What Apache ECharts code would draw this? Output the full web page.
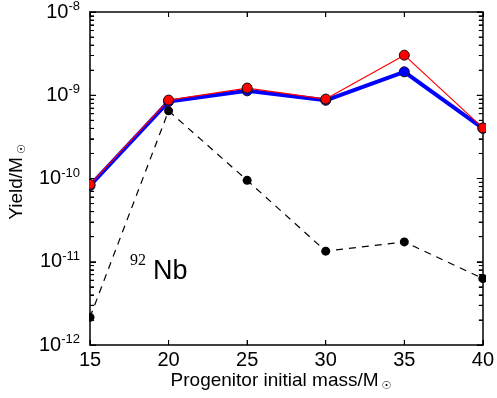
<!DOCTYPE html>
<html>
<head>
<meta charset="utf-8">
<script src="https://cdn.jsdelivr.net/npm/echarts@6/dist/echarts.min.js"></script>
<style>html,body{margin:0;padding:0;background:#fff}#c{width:497px;height:398px}</style>
</head>
<body>
<div id="c"></div>
<script>
// Data
var masses = [15, 20, 25, 30, 35, 40];
var redYield = [8.5e-11, 8.75e-10, 1.22e-9, 9.0e-10, 3.03e-9, 4.05e-10];
var blueYield = [8.2e-11, 8.4e-10, 1.13e-9, 8.7e-10, 1.91e-9, 4.0e-10];
var blackYield = [2.15e-12, 6.5e-10, 9.5e-11, 1.34e-11, 1.73e-11, 6.3e-12];
var xTicks = [15, 20, 25, 30, 35, 40];
var yExponents = [-12, -11, -10, -9, -8];

function pairs(ys) { return masses.map(function (m, i) { return [m, ys[i]]; }); }

// tick decoration positions (axis values, placed through the axes)
var yTickItems = [];
yExponents.forEach(function (e) {
  yTickItems.push([15, Math.pow(10, e), 6]);
  if (e < -8) for (var k = 2; k <= 9; k++) yTickItems.push([15, k * Math.pow(10, e), 4]);
});
var xTickItems = xTicks.map(function (x) { return [x, 1e-12]; });

var FONT = 'Liberation Sans, Arial, sans-serif';
var chart = echarts.init(document.getElementById('c'), null, { renderer: 'canvas' });

var yLabel = {
  show: true,
  margin: 10,
  formatter: function (v) {
    var ex = Math.round(Math.log10(v));
    return '{b|10}{s|' + ex + '}';
  },
  rich: {
    b: { fontSize: 20, fontFamily: FONT, color: '#000' },
    s: { fontSize: 13, fontFamily: FONT, color: '#000', padding: [0, 0, 11, 0] }
  }
};

function yAxisDef(pos, withLabels) {
  return {
    type: 'log', logBase: 10, min: 1e-12, max: 1e-8, position: pos,
    axisLine: { show: true, lineStyle: { color: '#000', width: 1.5 } },
    axisTick: { show: true, inside: true, length: 6, lineStyle: { color: '#000', width: 1 } },
    minorTick: { show: true, splitNumber: 9, length: 4, lineStyle: { color: '#000', width: 1 } },
    axisLabel: withLabels ? yLabel : { show: false },
    splitLine: { show: false },
    minorSplitLine: { show: false }
  };
}

chart.setOption({
  animation: false,
  backgroundColor: '#fff',
  grid: { left: 90, right: 12, top: 11, bottom: 53, containLabel: false },
  xAxis: [{
    type: 'value', min: 15, max: 40, interval: 5, position: 'bottom',
    axisLine: { show: true, lineStyle: { color: '#000', width: 1.5 } },
    axisTick: { show: true, inside: true, length: 5, lineStyle: { color: '#000', width: 1 } },
    axisLabel: { show: true, fontSize: 20, fontFamily: FONT, color: '#000', margin: 5 },
    splitLine: { show: false }
  }, {
    type: 'value', min: 15, max: 40, interval: 5, position: 'top',
    axisLine: { show: true, lineStyle: { color: '#444', width: 2 } },
    axisTick: { show: true, inside: true, length: 5, lineStyle: { color: '#000', width: 1 } },
    axisLabel: { show: false },
    splitLine: { show: false }
  }],
  yAxis: [yAxisDef('left', true), yAxisDef('right', false)],
  graphic: [{
    type: 'rect', z: 100, silent: true,
    shape: { x: 81, y: 0, width: 8, height: 350 }, style: { fill: '#fff' }
  }, {
    type: 'rect', z: 100, silent: true,
    shape: { x: 486, y: 0, width: 11, height: 350 }, style: { fill: '#fff' }
  }, {
    type: 'text', left: 130, top: 253,
    style: { text: '92', fontSize: 16, fontFamily: 'Liberation Serif, DejaVu Serif, serif', fill: '#000' }
  }, {
    type: 'text', left: 153, top: 258,
    style: { text: 'Nb', fontSize: 27, fontFamily: FONT, fill: '#000' }
  }, {
    type: 'text', x: 281, y: 381,
    style: {
      text: 'Progenitor initial mass/M{s|☉}', align: 'center', verticalAlign: 'middle',
      fontSize: 19, fontFamily: FONT, fill: '#000',
      rich: { s: { fontSize: 11, fontFamily: 'DejaVu Sans', padding: [10, 0, 0, 3] } }
    }
  }, {
    type: 'text', x: 17, y: 182, rotation: Math.PI / 2,
    style: {
      text: 'Yield/M{s|☉}', align: 'center', verticalAlign: 'middle',
      fontSize: 19, fontFamily: FONT, fill: '#000',
      rich: { s: { fontSize: 11, fontFamily: 'DejaVu Sans', padding: [10, 0, 0, 3] } }
    }
  }],
  series: [{
    name: 'yticks', type: 'custom', coordinateSystem: 'cartesian2d', silent: true, clip: false, z: 1,
    data: yTickItems,
    renderItem: function (params, api) {
      var v = api.value(1), len = api.value(2);
      var pl = api.coord([15, v]);
      var pr = api.coord([40, v]);
      return {
        type: 'group', children: [
          { type: 'rect', shape: { x: pl[0], y: pl[1] - 0.5, width: len, height: 1 }, style: { fill: '#000' } },
          { type: 'rect', shape: { x: pr[0] - len, y: pr[1] - 0.5, width: len, height: 1 }, style: { fill: '#000' } }
        ]
      };
    }
  }, {
    name: 'xticks', type: 'custom', coordinateSystem: 'cartesian2d', silent: true, clip: false, z: 1,
    data: xTickItems,
    renderItem: function (params, api) {
      var x = api.value(0);
      var pb = api.coord([x, 1e-12]);
      var pt = api.coord([x, 1e-8]);
      return {
        type: 'group', children: [
          { type: 'rect', shape: { x: pb[0] - 0.5, y: pb[1] - 5, width: 1, height: 5 }, style: { fill: '#000' } },
          { type: 'rect', shape: { x: pt[0] - 0.5, y: pt[1], width: 1, height: 5 }, style: { fill: '#000' } }
        ]
      };
    }
  }, {
    name: 'black', type: 'line', data: pairs(blackYield),
    symbol: 'circle', symbolSize: 9,
    lineStyle: { color: '#000', width: 1.2, type: [7, 6] },
    itemStyle: { color: '#000', borderWidth: 0 }
  }, {
    name: 'blue', type: 'line', data: pairs(blueYield),
    symbol: 'circle', symbolSize: 10,
    lineStyle: { color: '#0000ff', width: 4 },
    itemStyle: { color: '#0000ff', borderColor: '#111', borderWidth: 1 }
  }, {
    name: 'red', type: 'line', data: pairs(redYield),
    symbol: 'circle', symbolSize: 10,
    lineStyle: { color: '#ff0000', width: 1.2 },
    itemStyle: { color: '#ff0000', borderColor: '#111', borderWidth: 1 }
  }]
});
</script>
</body>
</html>
